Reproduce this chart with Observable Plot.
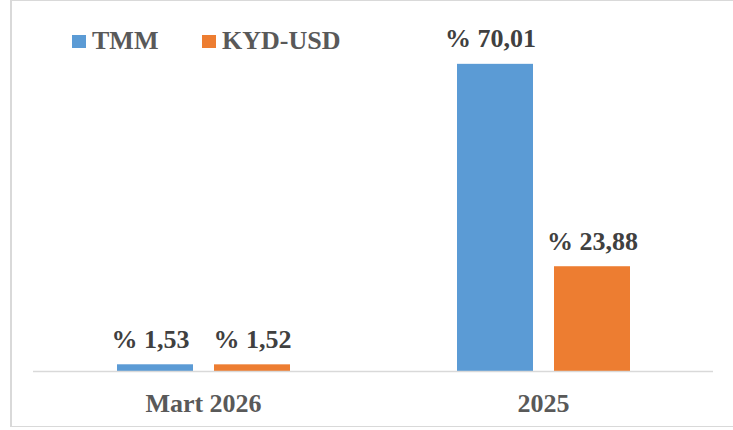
<!DOCTYPE html>
<html>
<head>
<meta charset="utf-8">
<script src="https://cdn.jsdelivr.net/npm/d3@7"></script>
<script src="https://cdn.jsdelivr.net/npm/@observablehq/plot@0.6"></script>
<style>
  html, body { margin: 0; padding: 0; background: #fff; }
  #wrap { position: relative; width: 733px; height: 430px; overflow: hidden; }
  #frame { position: absolute; left: 10px; top: 0; width: 740px; height: 427px;
           border-top: 1px solid #d9d9d9; border-bottom: 1.5px solid #d9d9d9;
           border-left: 2px solid #d9d9d9; box-sizing: border-box; }
  #chart { position: absolute; left: 0; top: 0; }
  .lg-sw { position: absolute; width: 14px; height: 13px; }
  .lg-tx { position: absolute; font-family: "Liberation Serif", "Times New Roman", serif;
           font-weight: bold; font-size: 26px; line-height: 26px; color: #595959; white-space: nowrap; }
</style>
</head>
<body>
<div id="wrap">
  <div id="frame"></div>
  <div id="chart"></div>
</div>
<script>
const categories = ["Mart 2026", "2025"];
const series = ["TMM", "KYD-USD"];
const tmmValues = [1.53, 70.01];
const kydValues = [1.52, 23.88];
const seriesColors = ["#5B9BD5", "#ED7D31"];

const data = categories.flatMap((c, i) => [
  {cat: c, s: series[0], v: tmmValues[i]},
  {cat: c, s: series[1], v: kydValues[i]}
]);
const fmt = v => "% " + v.toFixed(2).replace(".", ",");

const labelOpts = {fx: "cat", x: "s", y: "v", text: d => fmt(d.v), dy: -17,
  lineAnchor: "bottom", fill: "#404040", fontSize: 26, fontWeight: "bold"};

const plot = Plot.plot({
  width: 733,
  height: 430,
  marginLeft: 33,
  marginRight: 20,
  marginTop: 20,
  marginBottom: 59,
  style: {
    fontFamily: "'Liberation Serif', 'Times New Roman', serif",
    fontSize: "26px",
    fontWeight: "bold",
    color: "#595959",
    background: "transparent",
    overflow: "visible"
  },
  fx: {domain: categories, padding: 0, label: null, axis: "bottom", tickSize: 0, tickPadding: 22},
  x: {domain: series, paddingInner: 0.219, paddingOuter: 0.857, axis: null},
  y: {domain: [0, 80], axis: null},
  color: {domain: series, range: seriesColors},
  marks: [
    Plot.barY(data, {fx: "cat", x: "s", y: "v", fill: "s"}),
    Plot.ruleY([0], {stroke: "#d9d9d9", strokeWidth: 1.5}),
    Plot.text(data.filter(d => d.s === series[0]), {...labelOpts, dx: -5}),
    Plot.text(data.filter(d => d.s === series[1]), labelOpts)
  ]
});
document.getElementById("chart").appendChild(plot);

// legend
const wrap = document.getElementById("wrap");
const lgPos = [{sw: 72, tx: 92}, {sw: 202, tx: 222}];
series.forEach((s, i) => {
  const sw = document.createElement("div");
  sw.className = "lg-sw";
  sw.style.left = lgPos[i].sw + "px";
  sw.style.top = "35px";
  sw.style.background = seriesColors[i];
  wrap.appendChild(sw);
  const tx = document.createElement("div");
  tx.className = "lg-tx";
  tx.style.left = lgPos[i].tx + "px";
  tx.style.top = "28px";
  tx.textContent = s;
  wrap.appendChild(tx);
});
</script>
</body>
</html>
